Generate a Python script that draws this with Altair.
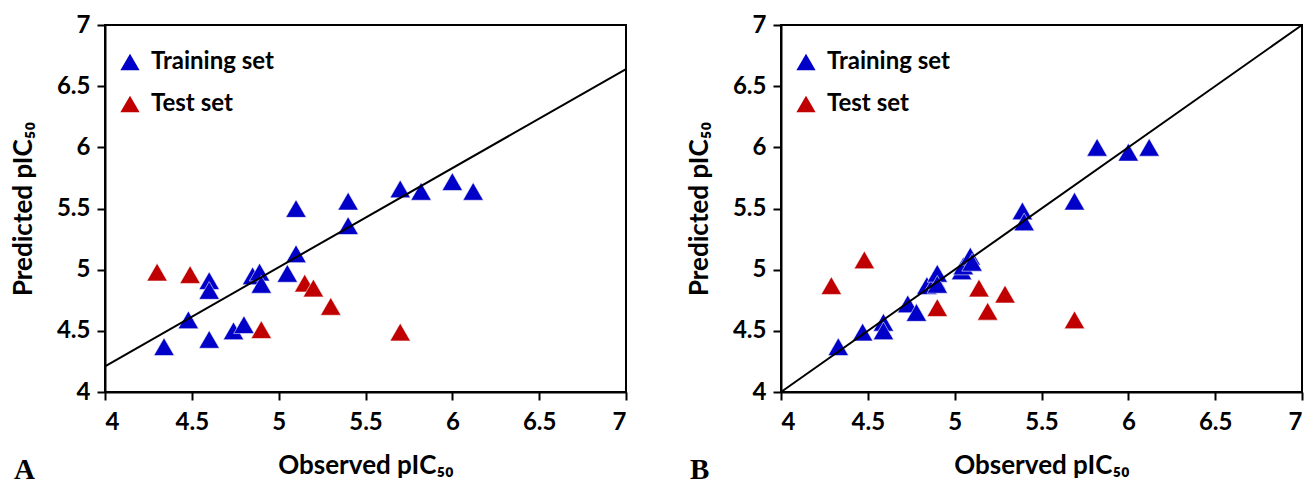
import altair as alt
import pandas as pd

# ---------------- data ----------------
ticks = [4, 4.5, 5, 5.5, 6, 6.5, 7]
line_x = [4, 7]

# Panel A
a_train_obs = [4.34, 4.48, 4.60, 4.60, 4.60, 4.74, 4.80, 4.85, 4.89, 4.90, 5.05, 5.10, 5.10, 5.40, 5.40, 5.70, 5.82, 6.00, 6.12]
a_train_pred = [4.37, 4.59, 4.43, 4.91, 4.83, 4.50, 4.55, 4.95, 4.98, 4.88, 4.97, 5.13, 5.50, 5.36, 5.56, 5.66, 5.64, 5.72, 5.64]
a_test_obs = [4.30, 4.49, 4.90, 5.15, 5.20, 5.30, 5.70]
a_test_pred = [4.98, 4.96, 4.51, 4.89, 4.85, 4.70, 4.49]
a_line_y = [4.21, 6.64]

# Panel B
b_train_obs = [4.33, 4.47, 4.59, 4.59, 4.73, 4.78, 4.84, 4.89, 4.90, 4.90, 5.04, 5.05, 5.09, 5.10, 5.39, 5.40, 5.69, 5.82, 6.00, 6.12]
b_train_pred = [4.37, 4.49, 4.57, 4.50, 4.72, 4.65, 4.87, 4.91, 4.97, 4.88, 4.99, 5.03, 5.11, 5.06, 5.48, 5.39, 5.56, 6.00, 5.96, 6.00]
b_test_obs = [4.29, 4.48, 4.90, 5.14, 5.19, 5.29, 5.69]
b_test_pred = [4.87, 5.08, 4.69, 4.85, 4.66, 4.80, 4.59]
b_line_y = [4, 7]

set_names = ["Training set", "Test set"]
BLUE = "#0000C8"
RED = "#C00000"
FONT = "Lato"
W, H = 521, 367


def panel(train_obs, train_pred, test_obs, test_pred, line_y, letter):
    pts = pd.DataFrame({
        "obs": train_obs + test_obs,
        "pred": train_pred + test_pred,
        "set": [set_names[0]] * len(train_obs) + [set_names[1]] * len(test_obs),
        "ord": list(range(len(train_obs) + len(test_obs))),
    })
    ln = pd.DataFrame({"obs": line_x, "pred": line_y})
    xs = alt.Scale(domain=[4, 7], nice=False, zero=False)
    ys = alt.Scale(domain=[4, 7], nice=False, zero=False)
    xax = alt.Axis(values=ticks, format="~g", title="Observed pIC₅₀", grid=False,
                   labelPadding=10, titlePadding=18)
    yax = alt.Axis(values=ticks, format="~g", title="Predicted pIC₅₀", grid=False,
                   labelPadding=7, titlePadding=20)
    points = alt.Chart(pts).mark_point(
        shape="triangle-up", filled=True, size=420, opacity=1,
        stroke="white", strokeWidth=0.8, strokeOpacity=0.7
    ).encode(
        x=alt.X("obs:Q", scale=xs, axis=xax),
        y=alt.Y("pred:Q", scale=ys, axis=yax),
        color=alt.Color("set:N", scale=alt.Scale(domain=set_names, range=[BLUE, RED]),
                        legend=alt.Legend(title=None, orient="none", legendX=13, legendY=25,
                                          symbolType="triangle-up", symbolSize=370,
                                          symbolStrokeWidth=0, labelFontSize=24,
                                          labelFont=FONT, labelFontWeight="bold",
                                          labelColor="black", rowPadding=18, labelOffset=9)),
        order=alt.Order("ord:Q"),
    )
    reg = alt.Chart(ln).mark_line(color="black", strokeWidth=2).encode(x="obs:Q", y="pred:Q")
    lab = alt.Chart(pd.DataFrame({"t": [letter]})).mark_text(
        font="Liberation Serif", fontWeight="bold", fontSize=29, align="left",
        baseline="alphabetic", color="black"
    ).encode(x=alt.value(-91), y=alt.value(H + 87), text="t:N")
    return alt.layer(points, reg, lab).properties(width=W, height=H)


pa = panel(a_train_obs, a_train_pred, a_test_obs, a_test_pred, a_line_y, "A")
pb = panel(b_train_obs, b_train_pred, b_test_obs, b_test_pred, b_line_y, "B")

chart = alt.hconcat(pa, pb, spacing=54).resolve_scale(color="independent").properties(
    padding={"left": 9, "top": 12, "right": 0, "bottom": 0}
).configure_view(
    stroke="black", strokeWidth=2
).configure_axis(
    domainColor="black", domainWidth=2, tickColor="black", tickWidth=2, tickSize=8,
    labelFont=FONT, labelFontSize=24, labelFontWeight="bold", labelColor="black",
    titleFont=FONT, titleFontSize=26, titleFontWeight="bold", titleColor="black"
)

chart.save("out.html", embed_options={"renderer": "svg", "actions": False})
